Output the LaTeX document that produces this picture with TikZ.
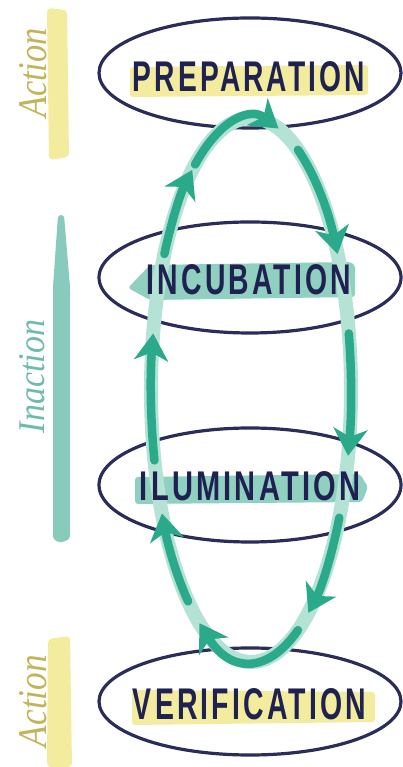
\documentclass[tikz,border=0pt]{standalone}
\usepackage{fontspec}
\usetikzlibrary{shapes.geometric,arrows.meta,calc}
\newfontfamily\stagefont[LetterSpace=11]{Liberation Sans}
\newfontfamily\labelfont{Liberation Serif}
\definecolor{navy}{HTML}{1F2150}
\definecolor{ringnavy}{HTML}{2A2C5A}
\definecolor{hlyellow}{HTML}{F3EC9E}
\definecolor{hlteal}{HTML}{8FD0C0}
\definecolor{bandteal}{HTML}{B4E2D4}
\definecolor{arrteal}{HTML}{2AAA8A}
\definecolor{actcol}{HTML}{C2B45A}
\definecolor{inactcol}{HTML}{6DBCAB}
\definecolor{barteal}{HTML}{88CBBD}
\tikzset{
  stagering/.style={ellipse, draw=ringnavy, line width=3.2pt, minimum width=302pt, inner sep=0pt},
  stagetext/.style={inner sep=0pt, text=navy, font=\stagefont\bfseries},
  sidelabel/.style={inner sep=0pt, rotate=90, font=\labelfont\itshape},
  band/.style={draw=bandteal, line width=14pt},
  cyclearrow/.style={draw=arrteal, line width=8.5pt, line cap=round,
    -{Stealth[length=27pt,width=34pt,inset=8pt]}},
}
\newcommand{\cycarc}[2]{%
  \draw[cyclearrow] ($(cyc)+(#1:100pt and 272pt)$)
    arc[start angle=#1, end angle=#2, x radius=100pt, y radius=272pt];}
\begin{document}
\begin{tikzpicture}[x=1pt,y=1pt]
\useasboundingbox (0,0) rectangle (403,767);
\fill[white] (0,0) rectangle (403,767);
% left bars
\fill[hlyellow, rounded corners=4pt] (47,759) -- (67,757) -- (69,610) -- (49,607) -- cycle;
\fill[barteal, rounded corners=3pt] (58,552) -- (64,552) -- (70,480) -- (70,228) -- (60,224) -- (53,228) -- (53,480) -- cycle;
\fill[hlyellow, rounded corners=4pt] (48,128) -- (70,131) -- (72,0) -- (47,0) -- cycle;
% left labels
\node[sidelabel, text=actcol] (act1) at (33.5,694) {\resizebox{90pt}{27pt}{Action}};
\node[sidelabel, text=inactcol] (inact) at (32.5,390.5) {\resizebox{113pt}{25pt}{Inaction}};
\node[sidelabel, text=actcol] (act2) at (33.5,66) {\resizebox{92pt}{27pt}{Action}};
% highlights
\fill[hlyellow, rounded corners=3pt] (130,700) -- (368,702) -- (368,672) -- (130,670) -- cycle;
\fill[hlteal, rounded corners=3pt] (128,479) -- (150,502) -- (350,505) -- (355,502) -- (355,470) -- (150,467) -- cycle;
\fill[hlteal, rounded corners=3pt] (135,290) -- (360,293) -- (368,280) -- (362,265) -- (135,263) -- cycle;
\fill[hlyellow, rounded corners=3pt] (132,77) -- (375,75) -- (375,45) -- (132,42) -- cycle;
% stage rings
\node[stagering, minimum height=110pt] (eprep) at (250,694) {};
\node[stagering, minimum height=111pt] (einc) at (250,489.5) {};
\node[stagering, minimum height=114pt] (eilu) at (250,282) {};
\node[stagering, minimum height=107pt] (ever) at (250,65.5) {};
% cycle
\coordinate (cyc) at (251,377);
\draw[band] (cyc) ellipse [x radius=100pt, y radius=272pt];
\cycarc{150}{126}
\cycarc{124}{74}
\cycarc{62}{30}
\cycarc{12}{-14}
\cycarc{-28}{-55}
\cycarc{-62}{-121}
\cycarc{231}{207}
\cycarc{195}{168}
% stage texts
\node[stagetext] (tprep) at (249,690) {\resizebox{232pt}{30pt}{PREPARATION}};
\node[stagetext] (tinc) at (249,487) {\resizebox{204pt}{30pt}{INCUBATION}};
\node[stagetext] (tilu) at (250,280.5) {\resizebox{220pt}{29pt}{ILUMINATION}};
\node[stagetext] (tver) at (249.5,62.5) {\resizebox{233pt}{31pt}{VERIFICATION}};
\end{tikzpicture}
\end{document}
